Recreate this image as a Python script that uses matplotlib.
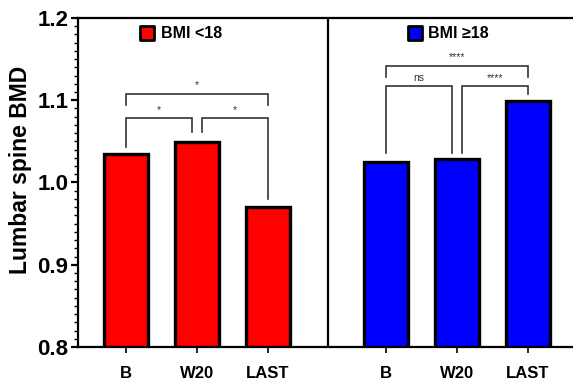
"""Lumbar spine BMD by BMI group."""

import matplotlib.pyplot as plt
import numpy as np

plt.rcParams["font.family"] = ["Liberation Sans", "DejaVu Sans"]

categories = ["B", "W20", "LAST"]
bmi_low = [1.035, 1.049, 0.970]
bmi_high = [1.025, 1.028, 1.099]
group_names = ["BMI <18", "BMI \u226518"]
group_colors = ["#ff0000", "#0000ff"]

# brackets: (i, j, y, leg_i_bottom, leg_j_bottom, label)
low_brackets = [
    (0, 2, 1.108, 1.094, 1.094, "*"),
    (0, 1, 1.078, 1.043, 1.061, "*"),
    (1, 2, 1.078, 1.061, 0.980, "*"),
]
high_brackets = [
    (0, 2, 1.142, 1.128, 1.128, "****"),
    (0, 1, 1.117, 1.036, 1.036, "ns"),
    (1, 2, 1.117, 1.036, 1.108, "****"),
]

fig = plt.figure(figsize=(5.73, 3.83), dpi=100)
ax = fig.add_axes([0.136, 0.094, 0.864, 0.859])

x_low = np.arange(3)
x_high = np.arange(3) + 3.662
divider = 2.845
bar_w = 0.62

ax.bar(x_low, np.array(bmi_low) - 0.8, bottom=0.8, width=bar_w,
       color=group_colors[0], edgecolor="black", linewidth=2.4, zorder=3)
ax.bar(x_high, np.array(bmi_high) - 0.8, bottom=0.8, width=bar_w,
       color=group_colors[1], edgecolor="black", linewidth=2.4, zorder=3)

ax.axvline(divider, color="black", lw=1.6, zorder=4)


def draw_brackets(xs, brackets):
    for i, j, y, yi, yj, label in brackets:
        x1, x2 = xs[i], xs[j]
        if j - i == 1:
            if i == 0:
                x2 -= 0.075
            else:
                x1 += 0.075
        ax.plot([x1, x1, x2, x2], [yi, y, y, yj], color="#333333", lw=1.2,
                solid_joinstyle="miter", zorder=4)
        ax.text((x1 + x2) / 2, y + 0.004, label, ha="center", va="bottom",
                fontsize=7.5, color="#333333")


draw_brackets(x_low, low_brackets)
draw_brackets(x_high, high_brackets)

# group labels
for xc, name, col in [(0.14, group_names[0], group_colors[0]),
                      (0.68, group_names[1], group_colors[1])]:
    ax.scatter([xc], [0.954], marker="s", s=110, color=col, edgecolor="black",
               linewidth=2, transform=ax.transAxes, zorder=5, clip_on=False)
    ax.text(xc + 0.028, 0.954, name, transform=ax.transAxes, ha="left",
            va="center", fontsize=11.5, fontweight="bold")

ax.set_xlim(-0.676, 6.296)
ax.set_ylim(0.8, 1.2)
ax.set_yticks([0.8, 0.9, 1.0, 1.1, 1.2])
ax.set_yticks(np.arange(0.8, 1.2, 0.01), minor=True)
ax.set_yticklabels(["0.8", "0.9", "1.0", "1.1", "1.2"], fontsize=16,
                   fontweight="bold")
ax.set_xticks(np.concatenate([x_low, x_high]))
ax.set_xticklabels(categories + categories, fontsize=12, fontweight="bold")
ax.tick_params(axis="y", which="major", length=5, width=1.6, pad=2)
ax.tick_params(axis="y", which="minor", length=3, width=1.0)
ax.tick_params(axis="x", length=4, width=1.2, pad=10)
ax.set_ylabel("Lumbar spine BMD", fontsize=16.5, fontweight="bold")
ax.yaxis.set_label_coords(-0.093, 0.538)

for s in ["left", "bottom", "top"]:
    ax.spines[s].set_linewidth(1.6)
ax.spines["right"].set_visible(False)

fig.savefig("out.png", dpi=100)
